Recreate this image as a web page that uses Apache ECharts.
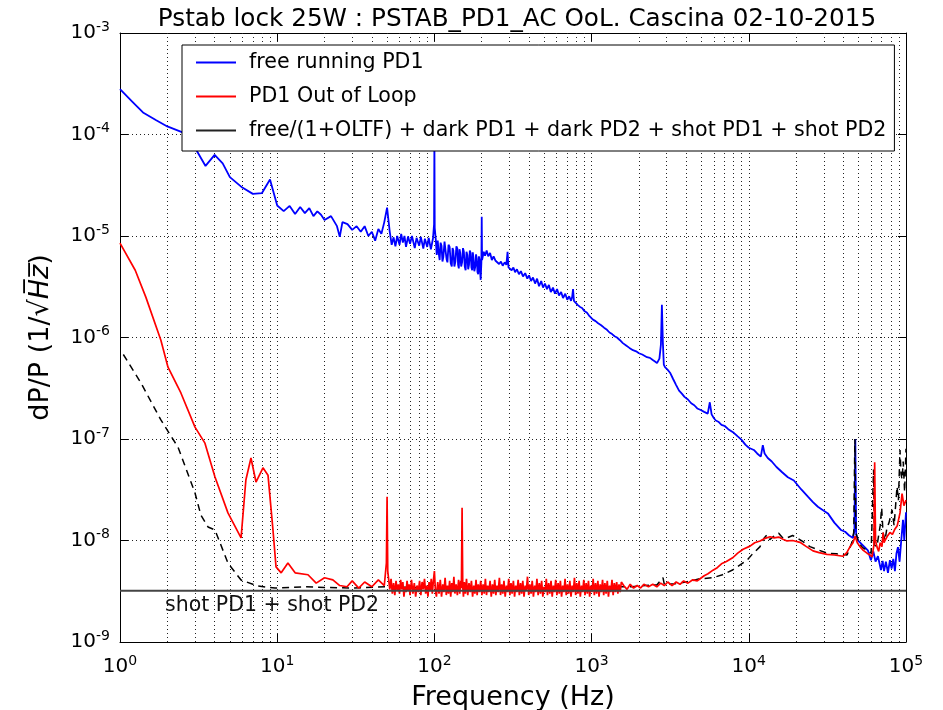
<!DOCTYPE html>
<html><head><meta charset="utf-8">
<script src="https://cdn.jsdelivr.net/npm/echarts@6/dist/echarts.min.js"></script>
<style>html,body{margin:0;padding:0;background:#fff}#c{width:943px;height:710px}</style>
</head><body><div id="c"></div>
<script>
// ---- data: [frequency Hz, dP/P 1/sqrt(Hz)] ----
const freeRunning = [
[1,2.8e-4],[1.2,2.1e-4],[1.4,1.65e-4],[1.7,1.38e-4],[2,1.2e-4],[2.5,1.05e-4],[2.8,8.8e-5],[3,7.4e-5],[3.5,4.9e-5],[4,6.3e-5],[4.5,5.2e-5],[5,3.8e-5],[6,3.0e-5],[7,2.6e-5],[8,2.65e-5],[9,3.6e-5],[10,2.0e-5],[11,1.76e-5],[12,1.98e-5],[13,1.65e-5],[14,1.93e-5],[15,1.68e-5],[16,1.88e-5],[17,1.57e-5],[18,1.75e-5],[19,1.62e-5],[20,1.44e-5],[22,1.57e-5],[24,1.25e-5],[25,9.8e-6],[26,1.37e-5],[28,1.31e-5],[30,1.15e-5],[32,1.25e-5],[34,1.1e-5],[36,1.25e-5],[38,1.0e-5],[40,1.1e-5],[42,9.0e-6],[44,1.17e-5],[46,1.05e-5],[48,1.37e-5],[50,1.9e-5],[52,1.1e-5],[53.5,8.2e-6],[55,9.7e-6],[56.5,7.9e-6],[58,1.0e-5],[60,8.2e-6],[61.5,1.05e-5],[63,8.6e-6],[64.5,1.0e-5],[66,7.8e-6],[68,9.9e-6],[70,8.4e-6],[72,1.0e-5],[75,7.6e-6],[77,9.6e-6],[80,8.0e-6],[82,9.8e-6],[85,7.5e-6],[87,9.4e-6],[90,7.8e-6],[92,9.6e-6],[95,7.4e-6],[98,9.5e-6],[99.5,1.3e-5],[100,9.5e-5],[100.5,1.2e-5],
[102,9.3e-6],[103.5,6.5e-6],[105,9.0e-6],[106.5,6.8e-6],[108,5.8e-6],[109.5,8.6e-6],[111,8.0e-6],[112.5,5.6e-6],[114,6.2e-6],[116,8.8e-6],[118,8.5e-6],[119.5,5.9e-6],[121,5.5e-6],[123,8.2e-6],[125,7.8e-6],[127,5.4e-6],[129,5.0e-6],[130.5,7.6e-6],[132,7.2e-6],[134,5.0e-6],[136,5.6e-6],[138,7.9e-6],[140,7.5e-6],[141.5,5.2e-6],[143,4.8e-6],[144.5,7.4e-6],[146,6.8e-6],[148,5.0e-6],[150,5.5e-6],[152,7.6e-6],[154,7.0e-6],[156,5.0e-6],[158,4.6e-6],[160,7.0e-6],[162,6.5e-6],[164,4.7e-6],[166,5.2e-6],[168,7.2e-6],[170,6.8e-6],[172,4.9e-6],[174,4.6e-6],[175.5,6.9e-6],[177,6.2e-6],[179.5,4.5e-6],[182,5.0e-6],[184,6.6e-6],[186,6.0e-6],[188,4.4e-6],[190,4.2e-6],[192,6.3e-6],[194,5.8e-6],[195.5,4.4e-6],[197,3.7e-6],[199,5.5e-6],[200,1.55e-5],[201,5.8e-6],
[206,7.0e-6],[210,6.4e-6],[215,7.2e-6],[220,6.3e-6],[226,6.8e-6],[232,5.8e-6],[238,6.3e-6],[245,5.7e-6],[252,5.9e-6],[258,5.3e-6],[265,5.6e-6],[272,5.1e-6],[280,5.5e-6],[287,5.2e-6],[292,7.0e-6],[296,4.9e-6],[303,5.0e-6],[310,4.6e-6],[318,4.9e-6],[326,4.4e-6],[335,4.7e-6],[345,4.2e-6],[355,4.5e-6],[366,4.0e-6],[378,4.3e-6],[390,3.8e-6],[400,4.1e-6],[412,3.6e-6],[424,3.9e-6],[437,3.4e-6],[450,3.8e-6],[463,3.2e-6],[478,3.6e-6],[491,3.1e-6],[505,3.4e-6],[520,3.0e-6],[535,3.3e-6],[550,2.8e-6],[568,3.1e-6],[585,2.7e-6],[603,3.0e-6],[620,2.6e-6],[640,2.8e-6],[658,2.45e-6],[680,2.7e-6],[700,2.35e-6],[720,2.55e-6],[740,2.3e-6],[752,2.5e-6],[762,3.0e-6],[772,2.3e-6],[790,2.25e-6],[815,2.1e-6],[844,2.0e-6],[870,1.95e-6],[900,1.82e-6],[935,1.75e-6],[970,1.62e-6],
[1020,1.5e-6],[1060,1.45e-6],[1100,1.38e-6],[1150,1.32e-6],[1200,1.25e-6],[1253,1.19e-6],[1300,1.12e-6],[1350,1.08e-6],[1400,1.03e-6],[1450,1.0e-6],[1516,9.4e-7],[1580,8.8e-7],[1650,8.4e-7],[1740,7.9e-7],[1833,7.5e-7],[1920,7.3e-7],[2000,7.0e-7],[2100,6.8e-7],[2250,6.4e-7],[2350,6.3e-7],[2450,6.0e-7],[2530,5.8e-7],[2606,5.6e-7],[2700,6.2e-7],[2760,8.5e-7],[2800,2.1e-6],[2840,9.0e-7],[2880,5.4e-7],[2930,5.1e-7],[3050,4.8e-7],[3155,4.5e-7],[3300,3.9e-7],[3450,3.4e-7],[3600,3.0e-7],[3750,2.8e-7],[3900,2.6e-7],[4100,2.45e-7],[4300,2.25e-7],[4500,2.15e-7],[4700,2.0e-7],[4945,1.93e-7],[5200,1.85e-7],[5480,1.78e-7],[5650,2.3e-7],[5800,1.75e-7],[6000,1.6e-7],[6170,1.52e-7],[6400,1.48e-7],[6700,1.38e-7],[7000,1.35e-7],[7400,1.25e-7],[8030,1.15e-7],[8500,1.06e-7],[9000,9.8e-8],[9500,8.8e-8],
[10000,8.2e-8],[10770,7.8e-8],[11300,7.2e-8],[11920,6.7e-8],[12280,8.7e-8],[12600,7.2e-8],[13200,6.5e-8],[14000,6.0e-8],[15000,5.3e-8],[16300,4.7e-8],[17720,4.2e-8],[19350,3.9e-8],[21500,3.2e-8],[23770,2.7e-8],[25500,2.4e-8],[27500,2.15e-8],[29500,2.0e-8],[31850,1.85e-8],[35000,1.5e-8],[38530,1.27e-8],[41000,1.22e-8],[43500,1.12e-8],[46000,1.06e-8],[47000,1.25e-8],[47600,1.0e-7],[48200,1.15e-8],[49500,1.0e-8],[53000,9.0e-9],[57200,8.0e-9],[59800,6.4e-9],[62000,7.8e-9],[64000,6.2e-9],[66300,7.0e-9],[69300,5.1e-9],[71000,6.3e-9],[72500,5.0e-9],[74500,6.2e-9],[76800,4.8e-9],[79000,6.4e-9],[81000,5.3e-9],[83000,6.6e-9],[85000,5.0e-9],[87000,7.5e-9],[88900,8.6e-9],[91000,6.2e-9],[93000,9.5e-9],[95700,1.6e-8],[97500,1.0e-8],[100000,1.9e-8]
];
const outOfLoop = [
[1,8.5e-6],[1.25,4.6e-6],[1.46,2.5e-6],[1.82,9.4e-7],[2.02,5.1e-7],[2.44,2.84e-7],[3,1.31e-7],[3.47,9.1e-8],[4.02,4.23e-8],[4.86,1.87e-8],[5.89,1.06e-8],[6.32,3.95e-8],[6.81,6.5e-8],[7.33,3.77e-8],[8.12,5.2e-8],[8.74,4.4e-8],[9.4,1.27e-8],[9.83,5.5e-9],[10.6,4.8e-9],[11.7,6.0e-9],[13,4.8e-9],[15.7,4.6e-9],[17.7,3.8e-9],[20,4.3e-9],[22.6,4.1e-9],[25,3.6e-9],[27.8,3.5e-9],[30,4.0e-9],[33,3.4e-9],[36,3.9e-9],[40,3.5e-9],[44,4.1e-9],[48,3.6e-9],[49.5,6e-9],[50,2.7e-8],[50.5,5e-9],
[52,3.3e-9],[53,4.2e-9],[54,3.0e-9],[55,3.8e-9],[56,2.9e-9],[57,4.0e-9],[58,3.2e-9],[59,3.7e-9],[60,3.0e-9],[61,4.1e-9],[62,3.3e-9],[63,3.9e-9],[64,2.8e-9],[65,3.5e-9],[66,3.1e-9],[67,4.0e-9],[68,3.2e-9],[69,3.7e-9],[70,2.9e-9],[71.5,4.1e-9],[73,3.0e-9],[74.5,3.8e-9],[76,2.8e-9],[77.5,3.6e-9],[79,3.1e-9],[80.5,4.0e-9],[82,2.9e-9],[83.5,3.9e-9],[85,3.3e-9],[86.5,4.2e-9],[88,3.0e-9],[89.5,3.6e-9],[91,2.8e-9],[92.5,3.9e-9],[94,3.2e-9],[95.5,4.2e-9],[97,3.0e-9],[98.5,4.0e-9],[100,5.0e-9],[101.5,3.2e-9],[103,2.8e-9],[105,3.9e-9],[107,3.0e-9],[109,4.1e-9],[111,2.8e-9],[113,3.7e-9],[115,3.1e-9],[117,4.3e-9],[119,2.9e-9],[121,3.6e-9],[123,3.0e-9],[125,4.0e-9],[127,2.8e-9],[129,3.8e-9],[131,3.1e-9],[133,4.4e-9],[135,3.0e-9],[137.5,3.7e-9],[140,2.9e-9],[142.5,4.1e-9],[145,3.0e-9],[147,4.0e-9],[148.5,3.4e-9],[150,2.1e-8],[151.5,3.5e-9],[153,2.8e-9],[155,3.9e-9],[157.5,3.0e-9],[160,4.2e-9],[163,2.9e-9],[166,3.8e-9],[169,3.1e-9],[172,4.0e-9],[175,2.8e-9],[178,3.6e-9],[181,3.0e-9],[184,4.1e-9],[187,2.9e-9],[190,3.7e-9],[193.5,3.1e-9],[197,4.0e-9],[200.5,2.9e-9],[204,3.7e-9],[207.5,3.0e-9],[211,4.2e-9],[214.5,2.9e-9],[218,3.6e-9],[222,3.1e-9],[226,4.0e-9],[230,2.8e-9],[234,3.7e-9],[238,3.0e-9],[242,4.1e-9],[246,2.9e-9],[250,3.6e-9],[254.5,3.1e-9],[259,4.3e-9],[263.5,2.9e-9],[268,3.7e-9],[272.5,3.0e-9],[277,4.0e-9],[282,2.8e-9],[287,3.6e-9],[292,3.1e-9],[297,4.2e-9],[302,2.9e-9],[307,3.8e-9],[312,3.0e-9],[318,4.0e-9],[323.5,2.8e-9],[329,3.6e-9],[335,3.1e-9],[341,4.1e-9],[347,2.9e-9],[353,3.8e-9],[359,3.0e-9],[365,4.0e-9],[371.5,2.8e-9],[378,3.6e-9],[384.5,3.2e-9],[391,4.4e-9],[398,2.9e-9],[405,3.7e-9],[412,3.0e-9],[419,4.0e-9],[426.5,2.8e-9],[434,3.6e-9],[441.5,3.1e-9],[449,4.2e-9],[457,2.9e-9],[465,3.8e-9],[473,3.0e-9],[481,4.0e-9],[489.5,2.8e-9],[498,3.5e-9],[506.5,3.1e-9],[515,4.2e-9],[524,2.9e-9],[533,3.8e-9],[542.5,3.0e-9],[552,4.0e-9],[561.5,2.8e-9],[571,3.6e-9],[581,3.1e-9],[591,4.1e-9],[601.5,2.9e-9],[612,3.8e-9],[622.5,3.0e-9],[633,4.0e-9],[644,2.8e-9],[655,3.6e-9],[666.5,3.1e-9],[678,4.2e-9],[690,2.9e-9],[702,3.7e-9],[714.5,3.0e-9],[727,4.0e-9],[739.5,2.8e-9],[752,3.6e-9],[765,3.1e-9],[778,4.3e-9],[791.5,2.9e-9],[805,3.8e-9],[819,3.0e-9],[833,4.0e-9],[847.5,2.8e-9],[862,3.6e-9],[877,3.1e-9],[892,4.1e-9],[907.5,2.9e-9],[923,3.8e-9],[939,3.0e-9],[955,4.0e-9],[971.5,2.8e-9],[988,3.6e-9],[1005,3.1e-9],[1023,4.2e-9],[1041,2.9e-9],[1059,3.8e-9],[1077,3.0e-9],[1096,4.0e-9],[1115,2.8e-9],[1134,3.7e-9],[1154,3.1e-9],[1174,4.1e-9],[1194,2.9e-9],[1215,3.8e-9],[1236,3.0e-9],[1258,4.0e-9],[1280,2.8e-9],[1302,3.6e-9],[1325,3.1e-9],[1348,4.1e-9],[1371,2.9e-9],[1395,3.8e-9],[1419,3.1e-9],[1444,3.9e-9],[1469,3.0e-9],[1494,3.7e-9],[1520,3.1e-9],[1546,3.9e-9],
[1600,3.6e-9],[1680,3.3e-9],[1760,3.7e-9],[1850,3.4e-9],[1950,3.6e-9],[2050,3.4e-9],[2150,3.7e-9],[2300,3.5e-9],[2450,3.7e-9],[2600,3.5e-9],[2750,3.8e-9],[2900,3.6e-9],[3050,3.9e-9],[3250,3.6e-9],[3450,3.9e-9],[3650,3.7e-9],[3850,4.0e-9],[4100,3.8e-9],[4400,4.1e-9],[4700,4.0e-9],[4900,4.2e-9],[5200,4.5e-9],[5500,4.7e-9],[5920,5.1e-9],[6300,5.4e-9],[6700,5.9e-9],[7200,6.2e-9],[7940,6.8e-9],[8500,7.5e-9],[9200,8.2e-9],[10180,8.8e-9],[10900,9.5e-9],[11790,9.9e-9],[12700,1.05e-8],[13640,1.09e-8],[14500,1.06e-8],[15500,1.08e-8],[16500,1.03e-8],[17500,9.9e-9],[19000,1.0e-8],[21170,9.6e-9],[23000,8.8e-9],[25600,7.9e-9],[28000,7.6e-9],[31420,7.3e-9],[35000,7.2e-9],[39800,7.0e-9],[42000,7.6e-9],[44100,8.7e-9],[46000,9.5e-9],[47450,1.1e-8],[49000,9.5e-9],[50950,8.7e-9],[53500,8.0e-9],[56500,7.5e-9],[59000,7.2e-9],[60800,6.9e-9],[62500,9.0e-9],[63200,5.9e-8],[64000,1.0e-8],[65300,8.7e-9],[67000,7.8e-9],[68500,9.5e-9],[70300,8.7e-9],[71500,1.2e-8],[72500,9.5e-9],[73500,1.0e-8],[76000,1.1e-8],[79100,1.2e-8],[82000,1.15e-8],[85100,1.3e-8],[88000,1.4e-8],[91600,1.87e-8],[94400,2.9e-8],[97000,2.2e-8],[100000,2.5e-8]
];
const noiseModel = [
[1.05,6.8e-7],[1.36,3.56e-7],[1.82,1.54e-7],[2.34,8.3e-8],[3,2.94e-8],[3.27,1.78e-8],[3.63,1.36e-8],[4.02,1.27e-8],[4.86,6.0e-9],[5.89,4.08e-9],[7.55,3.56e-9],[9.68,3.4e-9],[15,3.5e-9],[20,3.45e-9],[30,3.4e-9],[50,3.5e-9],[100,3.4e-9],[200,3.4e-9],[500,3.4e-9],[1000,3.45e-9],[1200,3.45e-9],[1500,3.5e-9],[1800,3.5e-9],[2200,3.6e-9],[2600,3.65e-9],[2845,4.3e-9],[2900,3.7e-9],[3400,3.75e-9],[4000,3.9e-9],[4900,4.2e-9],[5920,4.3e-9],[6800,4.6e-9],[7940,5.15e-9],[9740,6.4e-9],[10500,7.3e-9],[11790,8.7e-9],[12500,1.05e-8],[13060,1.14e-8],[13600,1.02e-8],[14270,1.09e-8],[15500,1.18e-8],[16500,1.05e-8],[17500,1.06e-8],[19000,1.12e-8],[20270,1.06e-8],[22000,9.8e-9],[24500,8.7e-9],[27000,8.2e-9],[31420,7.5e-9],[36000,7.4e-9],[42170,7.2e-9],[45300,9.6e-9],[46500,1.2e-8],[47300,1.0e-7],[48000,1.2e-8],[50000,9.5e-9],[53000,8.5e-9],[56500,8.0e-9],[60000,7.5e-9],[62200,5.0e-8],[63000,9.0e-9],[65300,8.7e-9],[66000,9.0e-9],[68500,1.4e-8],[70000,2.1e-8],[71400,1.2e-8],[73500,1.0e-8],[75700,1.34e-8],[78000,1.5e-8],[81500,2.0e-8],[84000,1.4e-8],[87700,3.4e-8],[89500,2.5e-8],[91600,7.8e-8],[93000,4.5e-8],[94400,4.0e-8],[96000,6.0e-8],[98000,3.0e-8],[100000,8.0e-8]
];
const shotNoise = [[1,3.2e-9],[100000,3.2e-9]];
const minorMantissas = [2,3,4,5,6,7,8,9];
const xDecades = [1,10,100,1000,10000];
const yDecades = [1e-9,1e-8,1e-7,1e-6,1e-5,1e-4];
const seriesNames = ['free running PD1','PD1 Out of Loop','free/(1+OLTF) + dark PD1 + dark PD2 + shot PD1 + shot PD2'];
const shotLabel = 'shot PD1 + shot PD2';
const titleText = 'Pstab lock 25W : PSTAB_PD1_AC OoL. Cascina 02-10-2015';

const xMinor = []; xDecades.forEach(d => minorMantissas.forEach(m => xMinor.push(m*d)));
const yMinor = []; yDecades.forEach(d => minorMantissas.forEach(m => yMinor.push(+(m*d).toPrecision(3))));

const FONT = 'DejaVu Sans';
const gridDot = {color:'#222', width:1, type:[1,3]};
const supRich = {
  b:{fontSize:20, fontFamily:FONT, color:'#000'},
  s:{fontSize:14, fontFamily:FONT, color:'#000', padding:[0,0,12,0]}
};
function expFmt(v){ return '{b|10}{s|' + Math.round(Math.log10(v)) + '}'; }

const chart = echarts.init(document.getElementById('c'), null, {renderer:'canvas'});
const baseAxis = {
  type:'log', logBase:10,
  axisLine:{show:true, onZero:false, lineStyle:{color:'#000', width:1}},
  axisTick:{show:true, inside:true, length:8, lineStyle:{color:'#000'}},
  splitLine:{show:true, lineStyle:gridDot},
  minorTick:{show:false}
};
chart.setOption({
  animation:false,
  backgroundColor:'#fff',
  title:{text:titleText, left:512, top:2, textAlign:'center',
    textStyle:{fontFamily:FONT, fontSize:24.7, fontWeight:'normal', color:'#000'}},
  grid:{left:120, right:37, top:33, bottom:68, outerBoundsMode:'none', containLabel:false},
  legend:{
    data:[{name:seriesNames[0]},{name:seriesNames[1]},{name:seriesNames[2], lineStyle:{type:'solid', color:'#222'}}],
    orient:'vertical', left:182, top:45, z:10,
    padding:[7,8,10,13], itemGap:13, itemWidth:40, itemHeight:20,
    itemStyle:{opacity:0, borderWidth:0},
    backgroundColor:'#fff', borderColor:'#000', borderWidth:1,
    textStyle:{fontFamily:FONT, fontSize:20.6, color:'#000', lineHeight:20, padding:[0,0,0,8]}
  },
  xAxis:[
    Object.assign({}, baseAxis, {min:1, max:100000, position:'bottom',
      axisLabel:{formatter:expFmt, rich:supRich, margin:12},
      name:'Frequency (Hz)', nameLocation:'middle', nameGap:42,
      nameTextStyle:{fontFamily:FONT, fontSize:27, color:'#000'}}),
    Object.assign({}, baseAxis, {min:1, max:100000, position:'top',
      axisLabel:{show:false}, splitLine:{show:false}})
  ],
  yAxis:[
    Object.assign({}, baseAxis, {min:1e-9, max:1e-3, position:'left',
      axisLabel:{formatter:expFmt, rich:supRich, margin:10},
      name:'{a|dP/P (1/√}{i|H̅z̅}{a|)}', nameLocation:'middle', nameGap:66,
      nameTextStyle:{rich:{a:{fontFamily:FONT, fontSize:27, color:'#000'}, i:{fontFamily:FONT, fontSize:27, fontStyle:'italic', color:'#000'}}}}),
    Object.assign({}, baseAxis, {min:1e-9, max:1e-3, position:'right',
      axisLabel:{show:false}, splitLine:{show:false}})
  ],
  graphic:[{type:'text', left:165, top:595, z:20,
    style:{text:shotLabel, fontFamily:FONT, fontSize:20.5, fill:'#111'}}],
  series:[
    {name:'grid', type:'line', data:[[1,1e-9]], symbol:'none', silent:true, z:1,
      lineStyle:{opacity:0},
      markLine:{silent:true, symbol:['none','none'], z:1, label:{show:false}, animation:false,
        lineStyle:gridDot, emphasis:{disabled:true},
        data: xMinor.map(v=>({xAxis:v})).concat(yMinor.map(v=>({yAxis:v})))}},
    {name:seriesNames[0], type:'line', data:freeRunning, symbol:'none', z:2,
      color:'#0000ff', lineStyle:{color:'#0000ff', width:1.8}},
    {name:seriesNames[2], type:'line', data:noiseModel, symbol:'none', z:3,
      color:'#000', lineStyle:{color:'#000', width:1.5, type:[7,5]}},
    {name:seriesNames[1], type:'line', data:outOfLoop, symbol:'none', z:4,
      color:'#ff0000', lineStyle:{color:'#ff0000', width:1.7}},
    {name:'shot', type:'line', data:shotNoise, symbol:'none', z:5,
      color:'#444', lineStyle:{color:'#444', width:2}}
  ]
});
</script></body></html>
